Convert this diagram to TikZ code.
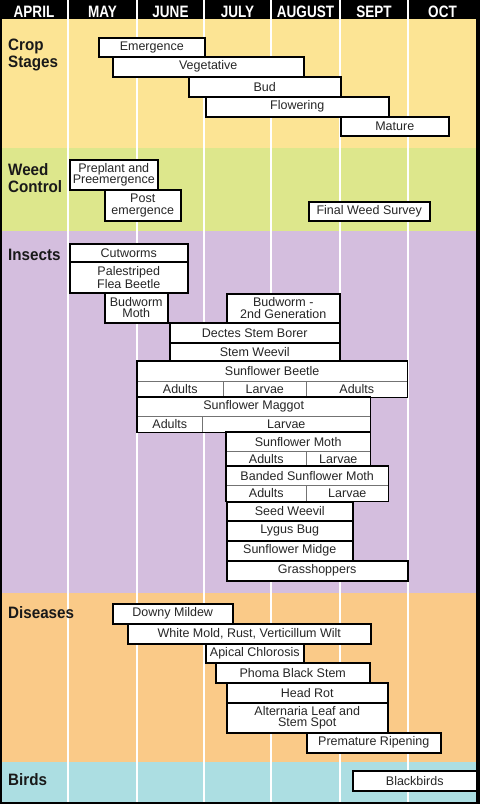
\documentclass[tikz,border=0pt]{standalone}
\usepackage{fontspec}
\setmainfont{Liberation Sans}
\newfontfamily\headfont[FakeStretch=0.82]{Liberation Sans}
\newfontfamily\grpfont[FakeStretch=0.92]{Liberation Sans}
\definecolor{cropbg}{RGB}{252,228,148}
\definecolor{weedbg}{RGB}{221,231,140}
\definecolor{insectbg}{RGB}{212,190,222}
\definecolor{diseasebg}{RGB}{250,202,136}
\definecolor{birdbg}{RGB}{172,222,226}
\begin{document}
\begin{tikzpicture}[x=1pt,y=-1pt,
		bar/.style 2 args={draw=black, line width=1.5pt, fill=white, text=black!85, minimum width=#1pt, minimum height=#2pt, anchor=north west, inner sep=0pt, align=center, font=\fontsize{12.5}{11.5}\selectfont},
		bartop/.style 2 args={fill=white, text=black!85, minimum width=#1pt, minimum height=#2pt, anchor=north west, inner sep=0pt, font=\fontsize{12.5}{11.5}\selectfont},
		cell/.style 2 args={draw=black!55, line width=0.6pt, fill=white, text=black!85, minimum width=#1pt, minimum height=#2pt, anchor=north west, inner sep=0pt, font=\fontsize{12.5}{11.5}\selectfont},
		month/.style={text=white, anchor=base, inner sep=0pt, font=\headfont\bfseries\fontsize{16.5}{16}\selectfont},
		group/.style={text=black!90, anchor=base west, inner sep=0pt, align=left, font=\grpfont\bfseries\fontsize{16.5}{17}\selectfont}]
		\useasboundingbox (0,0) rectangle (480,804);
		\fill [black] (0,0) rectangle (480,804);
		\fill [cropbg] (2,19) rectangle (476,148);
		\fill [weedbg] (2,148) rectangle (476,231);
		\fill [insectbg] (2,231) rectangle (476,593);
		\fill [diseasebg] (2,593) rectangle (476,762);
		\fill [birdbg] (2,762) rectangle (476,802);
		\foreach \x in {68,137,204,271,340,408}
			\draw [white, line width=1.2pt] (\x,0) -- (\x,802);
		\node [month] (apr) at (34,17) {APRIL};
		\node [month] (may) at (102.5,17) {MAY};
		\node [month] (jun) at (170.5,17) {JUNE};
		\node [month] (jul) at (237.5,17) {JULY};
		\node [month] (aug) at (305.5,17) {AUGUST};
		\node [month] (sep) at (374,17) {SEPT};
		\node [month] (oct) at (442.5,17) {OCT};
		\node [group] (crop) at (8,67) {Crop\\Stages};
		\node [group] (weed) at (8,192) {Weed\\Control};
		\node [group] (insects) at (8,260) {Insects};
		\node [group] (diseases) at (8,618) {Diseases};
		\node [group] (birds) at (8,785) {Birds};
		\node [bar={106}{19}] (emerg) at (98,37) {Emergence};
		\node [bar={191}{20}] (veget) at (112,56) {Vegetative};
		\node [bar={152}{20}] (budst) at (188,76) {Bud};
		\node [bar={183}{20}] (flower) at (205,96) {Flowering};
		\node [bar={108}{19}] (mature) at (340,116) {Mature};
		\node [bar={88}{30}] (preplant) at (69,159) {Preplant and\\Preemergence};
		\node [bar={76}{31}] (postem) at (104,189) {Post\\emergence};
		\node [bar={121}{19}] (survey) at (308,201) {Final Weed Survey};
		\node [bar={118}{18}] (cutw) at (69,243) {Cutworms};
		\node [bar={118}{31}] (flea) at (69,261) {Palestriped\\Flea Beetle};
		\node [bar={63}{30}] (budmoth) at (104,292) {Budworm\\Moth};
		\node [bar={113}{29}] (budgen) at (226,293) {Budworm -\\2nd Generation};
		\node [bar={170}{20}] (dectes) at (169,322) {Dectes Stem Borer};
		\node [bar={170}{19}] (stemw) at (169,342) {Stem Weevil};
		\node [bartop={270}{20}] (sbeetle) at (137,361) {Sunflower Beetle};
		\node [cell={86}{16}] (sbeetle-a) at (137,381) {Adults};
		\node [cell={83}{16}] (sbeetle-l) at (223,381) {Larvae};
		\node [cell={101}{16}] (sbeetle-b) at (306,381) {Adults};
		\draw [line width=1.5pt] (sbeetle.north west) rectangle (sbeetle-b.south east);
		\node [bartop={233}{19}] (maggot) at (137,397) {Sunflower Maggot};
		\node [cell={65}{16}] (maggot-a) at (137,416) {Adults};
		\node [cell={168}{16}] (maggot-l) at (202,416) {Larvae};
		\draw [line width=1.5pt] (maggot.north west) rectangle (maggot-l.south east);
		\node [bartop={144}{19}] (smoth) at (226,432) {Sunflower Moth};
		\node [cell={80}{15}] (smoth-a) at (226,451) {Adults};
		\node [cell={64}{15}] (smoth-l) at (306,451) {Larvae};
		\draw [line width=1.5pt] (smoth.north west) rectangle (smoth-l.south east);
		\node [bartop={162}{19}] (bmoth) at (226,466) {Banded Sunflower Moth};
		\node [cell={80}{16}] (bmoth-a) at (226,485) {Adults};
		\node [cell={82}{16}] (bmoth-l) at (306,485) {Larvae};
		\draw [line width=1.5pt] (bmoth.north west) rectangle (bmoth-l.south east);
		\node [bar={126}{19}] (seedw) at (226,501) {Seed Weevil};
		\node [bar={126}{20}] (lygus) at (226,520) {Lygus Bug};
		\node [bar={126}{20}] (midge) at (226,540) {Sunflower Midge};
		\node [bar={181}{20}] (grass) at (226,560) {Grasshoppers};
		\node [bar={120}{20}] (downy) at (112,603) {Downy Mildew};
		\node [bar={243}{20}] (whitem) at (127,623) {White Mold, Rust, Verticillum Wilt};
		\node [bar={98}{19}] (apical) at (205,643) {Apical Chlorosis};
		\node [bar={154}{20}] (phoma) at (215,662) {Phoma Black Stem};
		\node [bar={161}{20}] (headrot) at (226,682) {Head Rot};
		\node [bar={161}{30}] (altern) at (226,702) {Alternaria Leaf and\\Stem Spot};
		\node [bar={134}{20}] (premat) at (306,732) {Premature Ripening};
		\node [bar={124}{20}] (blackb) at (352,770) {Blackbirds};
	\end{tikzpicture}
\end{document}
